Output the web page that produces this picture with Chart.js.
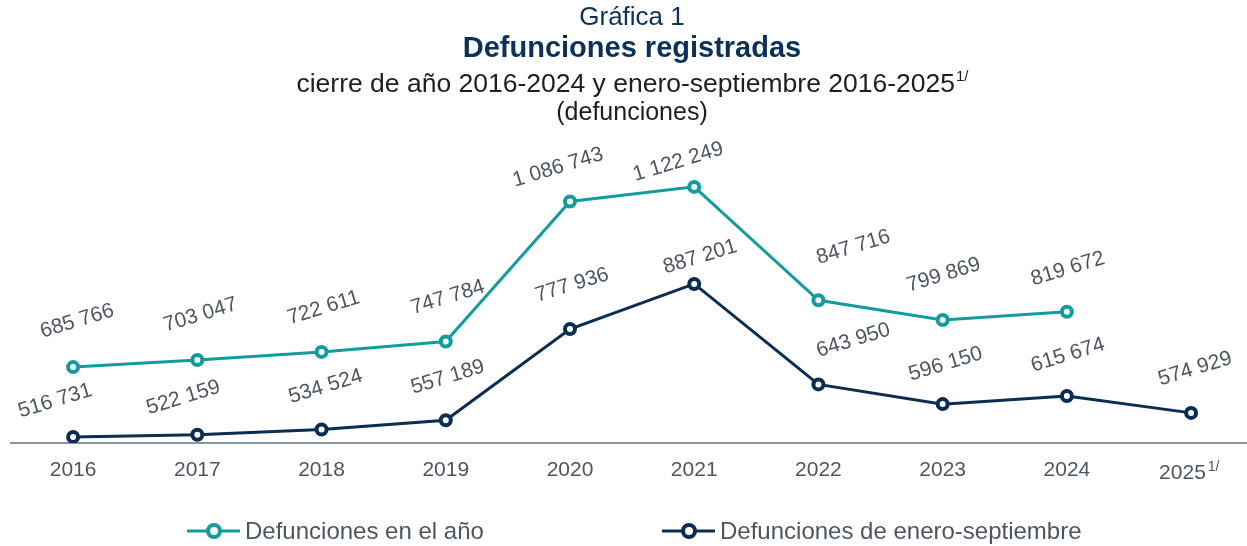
<!DOCTYPE html>
<html lang="es">
<head>
<meta charset="utf-8">
<script src="https://cdn.jsdelivr.net/npm/chart.js@4.4.1/dist/chart.umd.min.js"></script>
<style>
  html, body { margin: 0; padding: 0; background: #fff; }
  canvas { display: block; }
</style>
</head>
<body>
<canvas id="grafica" width="1247" height="546"></canvas>
<script>
// datos
const anios = ['2016', '2017', '2018', '2019', '2020', '2021', '2022', '2023', '2024', '2025'];
const defuncionesAnio = [685766, 703047, 722611, 747784, 1086743, 1122249, 847716, 799869, 819672];
const defuncionesEneSep = [516731, 522159, 534524, 557189, 777936, 887201, 643950, 596150, 615674, 574929];

// desplazamiento de las etiquetas (pixeles, respecto al punto)
const despAnio = [[4, -46], [3, -45], [2, -44], [2, -44], [-12, -34], [-16, -25], [35, -53], [1, -45], [1, -43]];
const despEneSep = [[-18, -36], [-14, -37], [4, -43], [2, -43], [2, -44], [6, -27], [35, -44], [3, -40], [1, -41], [4, -44]];

const TEAL = '#139c9c';
const AZUL = '#0b2d52';
const GRIS = '#4d5660';
const FUENTE = "'Liberation Sans', Arial, sans-serif";

function formato(v) {
  return v.toString().replace(/\B(?=(\d{3})+(?!\d))/g, ' ');
}

const textos = {
  id: 'textos',
  afterDraw(chart) {
    const ctx = chart.ctx;
    const cx = 632;
    ctx.save();
    ctx.textAlign = 'center';
    ctx.textBaseline = 'middle';

    // titulos
    ctx.fillStyle = '#0b3059';
    ctx.font = '26px ' + FUENTE;
    ctx.fillText('Gráfica 1', cx, 18);
    ctx.font = 'bold 29px ' + FUENTE;
    ctx.fillText('Defunciones registradas', cx, 49);

    ctx.fillStyle = '#1e1e1e';
    ctx.font = '26.5px ' + FUENTE;
    const sub = 'cierre de año 2016-2024 y enero-septiembre 2016-2025';
    const wSub = ctx.measureText(sub).width;
    ctx.font = '15px ' + FUENTE;
    const wSup = ctx.measureText('1/').width;
    const x0 = cx - (wSub + wSup) / 2;
    ctx.textAlign = 'left';
    ctx.font = '26.5px ' + FUENTE;
    ctx.fillText(sub, x0, 85);
    ctx.font = '15px ' + FUENTE;
    ctx.fillText('1/', x0 + wSub + 1, 77);
    ctx.textAlign = 'center';
    ctx.font = '25px ' + FUENTE;
    ctx.fillText('(defunciones)', cx, 113);

    // etiquetas de datos
    ctx.fillStyle = GRIS;
    ctx.font = '21px ' + FUENTE;
    const desps = [despAnio, despEneSep];
    chart.data.datasets.forEach((ds, d) => {
      const meta = chart.getDatasetMeta(d);
      meta.data.forEach((p, i) => {
        const [dx, dy] = desps[d][i];
        ctx.save();
        ctx.translate(p.x + dx, p.y + dy);
        ctx.rotate(-17 * Math.PI / 180);
        ctx.fillText(formato(ds.data[i].y), 0, 0);
        ctx.restore();
      });
    });

    // etiqueta 2025 con nota
    const xs = chart.scales.x;
    const x25 = xs.getPixelForValue(9);
    ctx.font = '21px ' + FUENTE;
    const w25 = ctx.measureText('2025').width;
    ctx.textAlign = 'left';
    ctx.fillText('2025', x25 - 32, 473);
    ctx.font = '14px ' + FUENTE;
    ctx.fillText('1/', x25 - 32 + w25 + 2, 467);

    // leyenda
    const items = [[187, TEAL], [662, AZUL]];
    ctx.font = '24px ' + FUENTE;
    chart.data.datasets.forEach((ds, d) => {
      const [lx, col] = items[d];
      const ly = 531;
      ctx.strokeStyle = col;
      ctx.lineWidth = 3;
      ctx.beginPath();
      ctx.moveTo(lx, ly);
      ctx.lineTo(lx + 53, ly);
      ctx.stroke();
      ctx.beginPath();
      ctx.arc(lx + 27, ly, 6, 0, Math.PI * 2);
      ctx.fillStyle = '#fff';
      ctx.fill();
      ctx.lineWidth = 4;
      ctx.stroke();
      ctx.fillStyle = GRIS;
      ctx.textAlign = 'left';
      ctx.fillText(ds.label, lx + 58, ly + 1);
    });
    ctx.restore();
  }
};

const ctx = document.getElementById('grafica').getContext('2d');
new Chart(ctx, {
  type: 'line',
  data: {
    datasets: [
      {
        label: 'Defunciones en el año',
        data: defuncionesAnio.map((v, i) => ({ x: i, y: v })),
        borderColor: TEAL,
        backgroundColor: '#fff',
        borderWidth: 3,
        pointRadius: 5,
        pointBorderWidth: 4,
        pointBackgroundColor: '#fff',
        pointBorderColor: TEAL,
        tension: 0
      },
      {
        label: 'Defunciones de enero-septiembre',
        data: defuncionesEneSep.map((v, i) => ({ x: i, y: v })),
        borderColor: AZUL,
        backgroundColor: '#fff',
        borderWidth: 3,
        pointRadius: 5,
        pointBorderWidth: 4,
        pointBackgroundColor: '#fff',
        pointBorderColor: AZUL,
        tension: 0
      }
    ]
  },
  options: {
    responsive: false,
    animation: false,
    layout: { autoPadding: false, padding: { top: 130, left: 11, right: 0, bottom: 0 } },
    scales: {
      x: {
        type: 'linear',
        min: -0.5,
        max: 9.45,
        afterBuildTicks: (scale) => {
          scale.ticks = anios.map((_, i) => ({ value: i }));
        },
        afterFit: (scale) => {
          scale.height = 103;
          scale.paddingLeft = 0;
          scale.paddingRight = 0;
        },
        grid: { drawOnChartArea: false, drawTicks: false },
        border: { display: true, color: '#8896a3', width: 2 },
        ticks: {
          padding: 15,
          autoSkip: false,
          maxRotation: 0,
          color: GRIS,
          font: { family: FUENTE, size: 21 },
          callback: (v) => (v === 9 ? '' : anios[v])
        }
      },
      y: {
        display: false,
        min: 502000,
        max: 1260000
      }
    },
    plugins: {
      legend: { display: false },
      tooltip: { enabled: false }
    }
  },
  plugins: [textos]
});
</script>
</body>
</html>
